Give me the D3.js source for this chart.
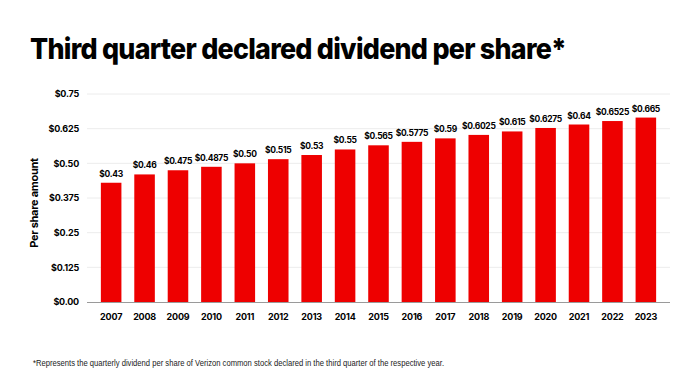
<!DOCTYPE html>
<html>
<head>
  <meta charset="utf-8">
  <script src="https://d3js.org/d3.v7.min.js"></script>
  <title>Third quarter declared dividend per share</title>
  <style>
    body { margin: 0; background: #fff; }
    svg { display: block; font-family: "Inter", "Liberation Sans", sans-serif; }
  </style>
</head>
<body>
  <div id="chart"></div>
  <script>
    // data
    var years = ['2007','2008','2009','2010','2011','2012','2013','2014','2015',
                 '2016','2017','2018','2019','2020','2021','2022','2023'];
    var dividends = [0.43, 0.46, 0.475, 0.4875, 0.50, 0.515, 0.53, 0.55, 0.565,
                     0.5775, 0.59, 0.6025, 0.615, 0.6275, 0.64, 0.6525, 0.665];
    var tickValues = [0, 0.125, 0.25, 0.375, 0.5, 0.625, 0.75];
    var tickLabels = ['$0.00','$0.125','$0.25','$0.375','$0.50','$0.625','$0.75'];

    var width = 700, height = 382;
    var svg = d3.select('#chart').append('svg')
        .attr('width', width).attr('height', height);

    var x = d3.scaleBand().domain(years).range([88, 669]).padding(0.385);
    var y = d3.scaleLinear().domain([0, 0.75]).range([302, 94]);

    // title
    svg.append('text')
       .attr('x', 30).attr('y', 59)
       .attr('font-size', 29).attr('font-weight', 800)
       .attr('letter-spacing', -0.8)
       .attr('textLength', 536).attr('lengthAdjust', 'spacingAndGlyphs')
       .attr('fill', '#000')
       .text('Third quarter declared dividend per share*');

    // grid
    svg.append('g')
       .selectAll('line')
       .data(tickValues.slice(1))
       .enter().append('line')
       .attr('x1', 87).attr('x2', 670)
       .attr('y1', function(d) { return y(d); })
       .attr('y2', function(d) { return y(d); })
       .attr('stroke', '#ececec').attr('stroke-width', 1);

    // y axis labels
    var yAxis = d3.axisLeft(y).tickValues(tickValues)
        .tickFormat(function(d, i) { return tickLabels[i]; })
        .tickSize(0).tickPadding(0);
    var ga = svg.append('g').attr('transform', 'translate(79,0)').call(yAxis);
    ga.select('.domain').remove();
    ga.selectAll('text')
      .attr('font-size', 9).attr('font-weight', 700).attr('fill', '#000')
      .attr('letter-spacing', -0.2)
      .attr('font-family', '"Inter", "Liberation Sans", sans-serif');

    svg.append('text')
       .attr('transform', 'translate(38,203) rotate(-90)')
       .attr('text-anchor', 'middle')
       .attr('font-size', 11).attr('font-weight', 700)
       .attr('letter-spacing', -0.3)
       .attr('fill', '#000')
       .text('Per share amount');

    // bars
    svg.append('g')
       .selectAll('rect')
       .data(dividends)
       .enter().append('rect')
       .attr('x', function(d, i) { return x(years[i]); })
       .attr('width', x.bandwidth())
       .attr('y', function(d) { return y(d); })
       .attr('height', function(d) { return y(0) - y(d); })
       .attr('fill', '#ee0000');

    // baseline
    svg.append('line')
       .attr('x1', 87).attr('x2', 670)
       .attr('y1', y(0) + 0.5).attr('y2', y(0) + 0.5)
       .attr('stroke', '#9a9a9a').attr('stroke-width', 1);

    // value labels
    function fmt(v) {
      var s = v.toFixed(4).replace(/0+$/, '');
      var dec = s.split('.')[1] || '';
      if (dec.length < 2) s = v.toFixed(2);
      return '$' + s;
    }
    svg.append('g')
       .selectAll('text')
       .data(dividends)
       .enter().append('text')
       .attr('x', function(d, i) { return x(years[i]) + x.bandwidth() / 2; })
       .attr('y', function(d) { return y(d) - 6; })
       .attr('text-anchor', 'middle')
       .attr('font-size', 8.5).attr('font-weight', 700)
       .attr('letter-spacing', -0.3)
       .attr('fill', '#000')
       .text(fmt);

    // x axis labels
    var xAxis = d3.axisBottom(x).tickSize(0).tickPadding(0);
    var gx = svg.append('g').attr('transform', 'translate(0,320)').call(xAxis);
    gx.select('.domain').remove();
    gx.selectAll('text')
      .attr('dy', 0)
      .attr('font-size', 9).attr('font-weight', 700).attr('fill', '#000')
      .attr('letter-spacing', -0.2)
      .attr('font-family', '"Inter", "Liberation Sans", sans-serif');

    // footnote
    svg.append('text')
       .attr('x', 33).attr('y', 366)
       .attr('font-size', 9)
       .attr('font-family', '"Liberation Sans Narrow", "Liberation Sans", sans-serif')
       .attr('textLength', 411).attr('lengthAdjust', 'spacingAndGlyphs')
       .attr('fill', '#222')
       .text('*Represents the quarterly dividend per share of Verizon common stock declared in the third quarter of the respective year.');
  </script>
</body>
</html>
